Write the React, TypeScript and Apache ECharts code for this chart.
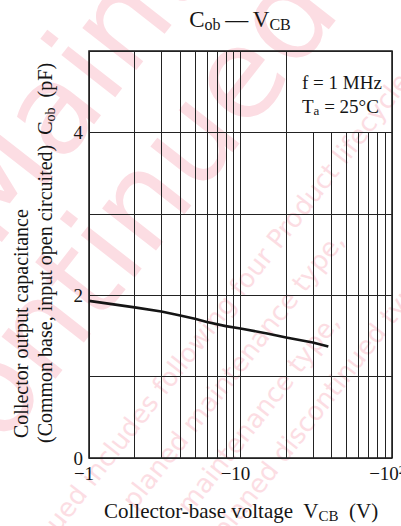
import React, { useEffect, useRef } from 'react';
import * as echarts from 'echarts';

// ---- data ----
const voltage = [1, 2, 3, 4, 5, 6, 8, 10, 15, 20, 30, 38]; // |V_CB| in volts (plotted as negative)
const capacitance = [1.93, 1.85, 1.8, 1.75, 1.71, 1.67, 1.62, 1.59, 1.53, 1.48, 1.42, 1.37]; // pF
const xTicks = [1, 10, 100];
const xTickLabels = ['−1', '−10', '−10{sup|2}'];
const yTickLabels = ['0', '', '2', '', '4', ''];
const minorGridFull = [2, 3, 4, 5, 6, 7, 8, 9, 20];
const minorGridLower = [30, 40, 50, 60, 70, 80, 90];
const lowerGridTop = 4;
const yMin = 0;
const yMax = 5;

// ---- watermark texts ----
const wmBig = ['Maintenance/', 'Discontinued'];
const wmSmall = [
  'Maintenance/Discontinued includes following four Product lifecycle stage.',
  'planed maintenance type,',
  'maintenance type,',
  'planed discontinued typed, discontinued type',
];

const serif = '"Liberation Serif", "Times New Roman", serif';
const sans = '"DejaVu Sans", sans-serif';
const ink = '#151515';

export default function App() {
  const ref = useRef<HTMLDivElement>(null);

  useEffect(() => {
    document.body.style.margin = '0';
    if (!ref.current) return;
    const chart = echarts.init(ref.current, undefined, { renderer: 'svg' });

    const ang = (52 * Math.PI) / 180;
    const wmColor = '#fcdde3';

    const sub = (size: number, lh: number) => ({
      fontFamily: serif,
      fontSize: size,
      lineHeight: lh,
      verticalAlign: 'bottom',
      fill: ink,
      color: ink,
    });
    const main = (size: number, lh: number) => ({
      fontFamily: serif,
      fontSize: size,
      lineHeight: lh,
      fill: ink,
      color: ink,
    });

    const wm = (text: string, x: number, y: number, size: number) => ({
      type: 'text', x, y, rotation: ang, z: -10, silent: true,
      style: { text, fontFamily: sans, fontSize: size, fill: wmColor, align: 'left', verticalAlign: 'middle' },
    });

    const option: any = {
      animation: false,
      backgroundColor: '#ffffff',
      grid: {
        left: 89,
        top: 51,
        width: 303,
        height: 407,
        outerBoundsMode: 'none',
        containLabel: false,
        show: true,
        borderColor: ink,
        borderWidth: 1.5,
        backgroundColor: 'transparent',
      },
      xAxis: {
        type: 'log',
        logBase: 10,
        min: 1,
        max: 100,
        axisLine: { show: false },
        axisTick: { show: false },
        minorTick: { show: false },
        minorSplitLine: { show: false },
        splitLine: { show: true, lineStyle: { color: '#222', width: 1 } },
        axisLabel: {
          showMinLabel: true,
          showMaxLabel: true,
          hideOverlap: false,
          color: ink,
          fontFamily: serif,
          fontSize: 19,
          margin: 6,
          padding: [0, 10, 0, 0],
          formatter: (v: number) => {
            const i = xTicks.indexOf(Math.round(v));
            return i >= 0 ? xTickLabels[i] : '';
          },
          rich: {
            sup: { fontFamily: serif, fontSize: 12, verticalAlign: 'top', color: ink },
          },
        },
      },
      yAxis: {
        type: 'value',
        min: yMin,
        max: yMax,
        interval: 1,
        axisLine: { show: false },
        axisTick: { show: false },
        splitLine: { show: true, lineStyle: { color: '#222', width: 1 } },
        axisLabel: {
          color: ink,
          fontFamily: serif,
          fontSize: 19,
          margin: 6,
          formatter: (v: number) => yTickLabels[Math.round(v)] ?? '',
        },
      },
      series: [
        {
          type: 'line',
          data: voltage.map((v, i) => [v, capacitance[i]]),
          symbol: 'none',
          showSymbol: false,
          lineStyle: { color: ink, width: 2.6 },
          z: 5,
          silent: true,
          markLine: {
            animation: false,
            silent: true,
            symbol: ['none', 'none'],
            label: { show: false },
            emphasis: { disabled: true },
            lineStyle: { color: '#222', width: 1, type: 'solid' },
            data: [
              ...minorGridFull.map((v) => [{ coord: [v, yMin] }, { coord: [v, yMax] }]),
              ...minorGridLower.map((v) => [{ coord: [v, yMin] }, { coord: [v, lowerGridTop] }]),
            ],
          },
        },
      ],
      graphic: [
        // watermark
        wm(wmBig[0], -40, 225, 125),
        wm(wmBig[1], -196, 630, 125),
        wm(wmSmall[0], -132, 762, 26),
        wm(wmSmall[1], 128, 505, 26),
        wm(wmSmall[2], 183, 510, 26),
        wm(wmSmall[3], 218, 535, 26),
        // title
        {
          type: 'text', x: 240, y: 6, z: 10,
          style: {
            text: '{m|C}{s|ob}{m|\u2009—\u2009V}{s|CB}',
            align: 'center', verticalAlign: 'top', fill: ink,
            rich: { m: main(23, 26), s: sub(16, 16) },
          },
        },
        // x axis name
        {
          type: 'text', x: 241, y: 498, z: 10,
          style: {
            text: '{m|Collector-base voltage  V}{s|CB}{m|  (V)}',
            align: 'center', verticalAlign: 'top', fill: ink,
            rich: { m: main(21, 25), s: sub(15, 15) },
          },
        },
        // y axis name, line 1
        {
          type: 'text', x: 21, y: 438, rotation: Math.PI / 2, z: 10,
          style: {
            text: '{m|Collector output capacitance}',
            align: 'left', verticalAlign: 'middle', fill: ink,
            rich: { m: main(20, 24) },
          },
        },
        // y axis name, line 2
        {
          type: 'text', x: 45, y: 443, rotation: Math.PI / 2, z: 10,
          style: {
            text: '{m|(Common base, input open circuited)  C}{s|ob}{m|  (pF)}',
            align: 'left', verticalAlign: 'middle', fill: ink,
            rich: { m: main(20, 24), s: sub(14, 14) },
          },
        },
        // conditions
        {
          type: 'text', x: 302, y: 82, z: 10,
          style: {
            text: '{m|f = 1 MHz}',
            align: 'left', verticalAlign: 'middle', fill: ink,
            rich: { m: main(19, 22) },
          },
        },
        {
          type: 'text', x: 302, y: 106, z: 10,
          style: {
            text: '{m|T}{s|a}{m| = 25°C}',
            align: 'left', verticalAlign: 'middle', fill: ink,
            rich: { m: main(19, 22), s: sub(13, 13) },
          },
        },
      ],
    };

    chart.setOption(option);
    return () => chart.dispose();
  }, []);

  return <div ref={ref} style={{ width: 401, height: 526 }} />;
}
